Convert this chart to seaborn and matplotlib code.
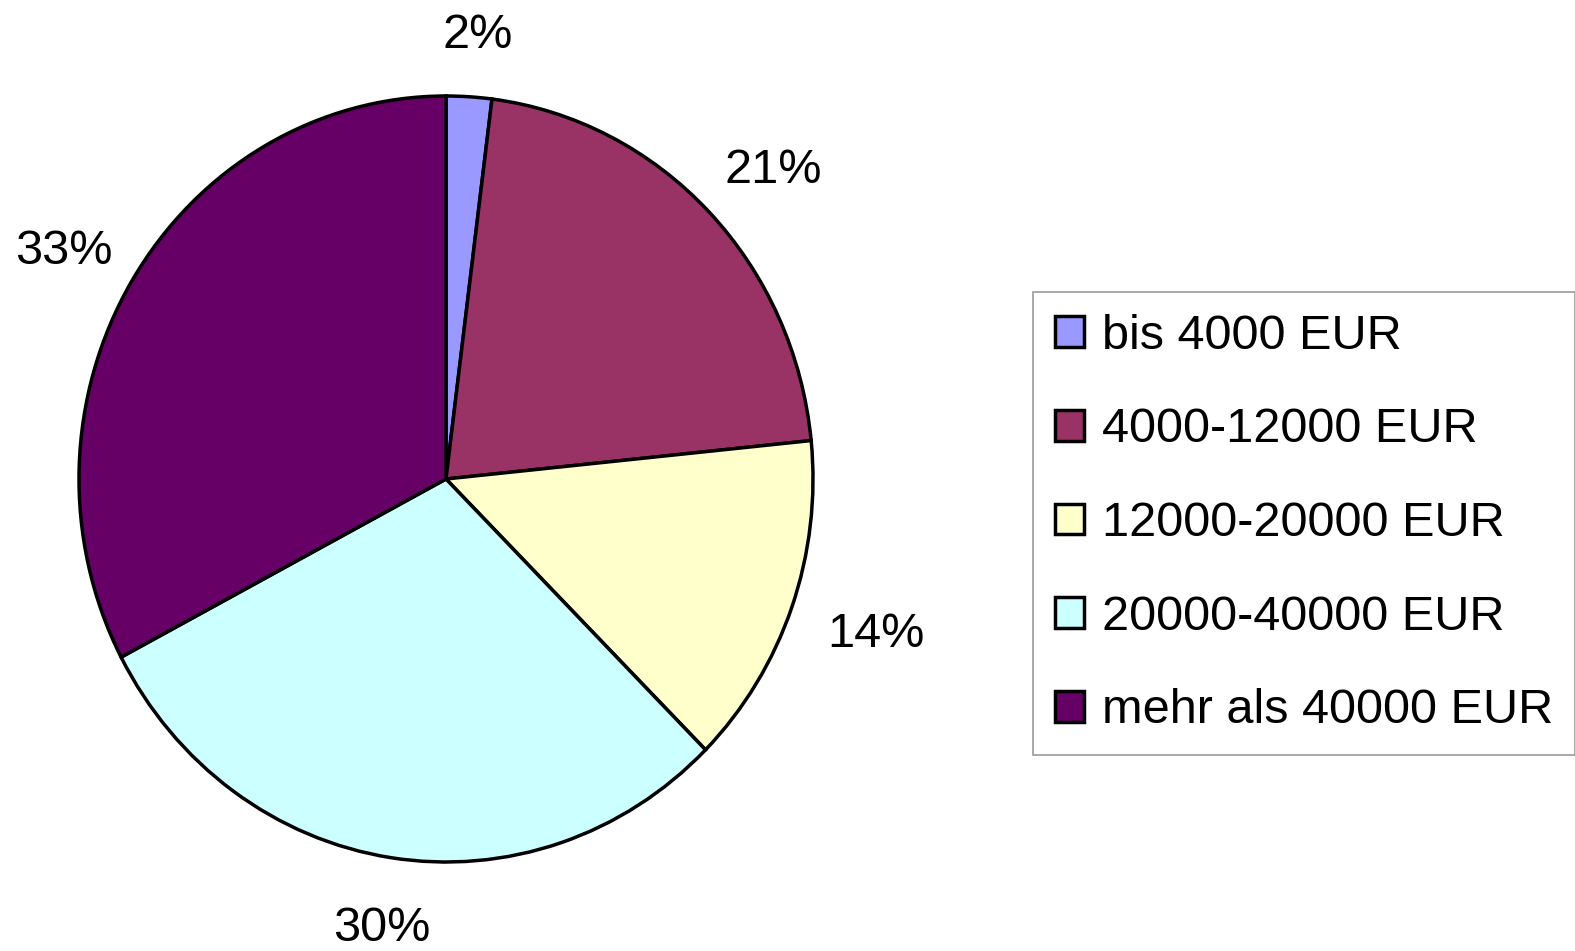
import matplotlib
matplotlib.use("Agg")
import numpy as np
import matplotlib.pyplot as plt
import seaborn as sns

# data (shares)
categories = ["bis 4000 EUR", "4000-12000 EUR", "12000-20000 EUR",
              "20000-40000 EUR", "mehr als 40000 EUR"]
shares = [2.0, 21.4, 14.1, 29.8, 32.7]
colors = ["#9999FF", "#993366", "#FFFFCC", "#CCFFFF", "#660066"]

sns.set_theme(style="white")
plt.rcParams["font.family"] = ["Liberation Sans", "DejaVu Sans"]
plt.rcParams["text.color"] = "black"

fig = plt.figure(figsize=(15.75, 9.51), dpi=100)
W, H = 1575, 951
cx, cy, rx, ry = 446, 479, 367, 383
ax = fig.add_axes([(cx - rx) / W, (H - cy - ry) / H, 2 * rx / W, 2 * ry / H])

palette = sns.color_palette(colors)
wedges, texts, autotexts = ax.pie(
    shares, colors=palette, startangle=90, counterclock=False,
    autopct="%.0f%%", pctdistance=1.2,
    wedgeprops=dict(edgecolor="black", linewidth=2.5),
    textprops=dict(fontsize=35, color="black"))
ax.set_aspect("auto")
ax.set_xlim(-1, 1)
ax.set_ylim(-1, 1)
ax.axis("off")

# put the percent labels just outside the rim, like Excel does
fig.canvas.draw()
renderer = fig.canvas.get_renderer()
gap = 36
for w, t in zip(wedges, autotexts):
    th = np.deg2rad((w.theta1 + w.theta2) / 2)
    ux, uy = np.cos(th), np.sin(th)
    bb = t.get_window_extent(renderer)
    ox = ux * (gap + bb.width / 2) + 4
    oy = uy * (gap + 8 + bb.height / 2) - 5
    t.set_position((ux + ox / rx, uy + oy / ry))
    t.set_ha("center")
    t.set_va("center")

leg = fig.legend(wedges, categories, loc="upper left",
                 bbox_to_anchor=(1033 / W, 1 - 292 / H),
                 fontsize=35, frameon=True, fancybox=False,
                 edgecolor="#808080", handlelength=0.6, handleheight=0.6,
                 handletextpad=0.37, labelspacing=1.0, borderpad=0.45,
                 borderaxespad=0)
leg.get_frame().set_linewidth(1.2)
for txt in leg.get_texts():
    txt.set_color("black")

fig.savefig("out.png", dpi=100, facecolor="white")
